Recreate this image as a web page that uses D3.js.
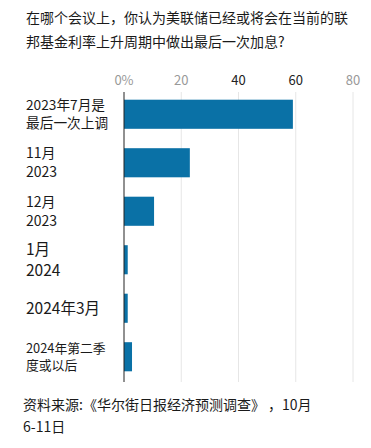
<!DOCTYPE html>
<html>
<head>
<meta charset="utf-8">
<script src="https://cdn.jsdelivr.net/npm/d3@7"></script>
<style>
  body { margin: 0; background: #fff; }
  svg { font-family: "Noto Sans CJK SC", "Noto Sans", sans-serif; }
</style>
</head>
<body>
<svg id="chart" width="371" height="448"></svg>
<script>
// survey answers
var categories = ["2023年7月是|最后一次上调", "11月|2023", "12月|2023", "1月|2024", "2024年3月", "2024年第二季|度或以后"];
var values = [59, 23, 10.5, 1.3, 1.3, 2.8];
var ticks = [0, 20, 40, 60, 80];
var tickLabels = ["0%", "20", "40", "60", "80"];
var titleLines = ["在哪个会议上，你认为美联储已经或将会在当前的联", "邦基金利率上升周期中做出最后一次加息?"];
var sourceLines = ["资料来源:《华尔街日报经济预测调查》 ，10月", "6-11日"];

var labelSizes = [13.7, 14, 14, 15.5, 15.5, 12.8];

var svg = d3.select("#chart");

var x = d3.scaleLinear().domain([0, 80]).range([124, 353]);
var y = d3.scaleBand().domain(categories).range([90, 381])
    .paddingInner(0.4).paddingOuter(0.2);

// title
svg.append("g").selectAll("text")
    .data(titleLines)
    .enter().append("text")
    .attr("x", 26)
    .attr("y", function (d, i) { return 23 + i * 24; })
    .attr("font-size", 14)
    .attr("fill", "#1a1a1a")
    .text(function (d) { return d; });

// grid lines
svg.append("g").selectAll("line")
    .data(ticks.slice(1))
    .enter().append("line")
    .attr("x1", function (d) { return x(d); })
    .attr("x2", function (d) { return x(d); })
    .attr("y1", 92)
    .attr("y2", 382)
    .attr("stroke", "#e6e6e6")
    .attr("stroke-width", 1);

// tick labels
svg.append("g").selectAll("text")
    .data(ticks)
    .enter().append("text")
    .attr("x", function (d) { return x(d); })
    .attr("y", 85)
    .attr("text-anchor", "middle")
    .attr("font-size", 13)
    .attr("fill", function (d) { return (d == 40 || d == 60) ? "#222" : "#999"; })
    .text(function (d, i) { return tickLabels[i]; });

// bars
svg.append("g").selectAll("rect")
    .data(values)
    .enter().append("rect")
    .attr("x", x(0))
    .attr("y", function (d, i) { return y(categories[i]); })
    .attr("width", function (d) { return x(d) - x(0); })
    .attr("height", y.bandwidth())
    .attr("fill", "#0a71a6");

// axis line
svg.append("line")
    .attr("x1", x(0)).attr("x2", x(0))
    .attr("y1", 92).attr("y2", 382)
    .attr("stroke", "#222")
    .attr("stroke-width", 1);

// category labels
var lab = svg.append("g").selectAll("text")
    .data(categories)
    .enter().append("text")
    .attr("font-size", function (d, i) { return labelSizes[i]; })
    .attr("fill", "#1a1a1a");

lab.each(function (d, i) {
    var parts = d.split("|");
    var fs = labelSizes[i];
    var lh = fs * 1.35;
    var mid = y(d) + y.bandwidth() / 2;
    var top = mid - (parts.length - 1) * lh / 2 + fs * 0.36;
    d3.select(this).selectAll("tspan")
        .data(parts)
        .enter().append("tspan")
        .attr("x", 26)
        .attr("y", function (p, j) { return top + j * lh; })
        .text(function (p) { return p; });
});

// source
svg.append("g").selectAll("text")
    .data(sourceLines)
    .enter().append("text")
    .attr("x", 23)
    .attr("y", function (d, i) { return 410 + i * 22; })
    .attr("font-size", 14)
    .attr("fill", "#1a1a1a")
    .attr("xml:space", "preserve")
    .style("white-space", "pre")
    .text(function (d) { return d; });
</script>
</body>
</html>
